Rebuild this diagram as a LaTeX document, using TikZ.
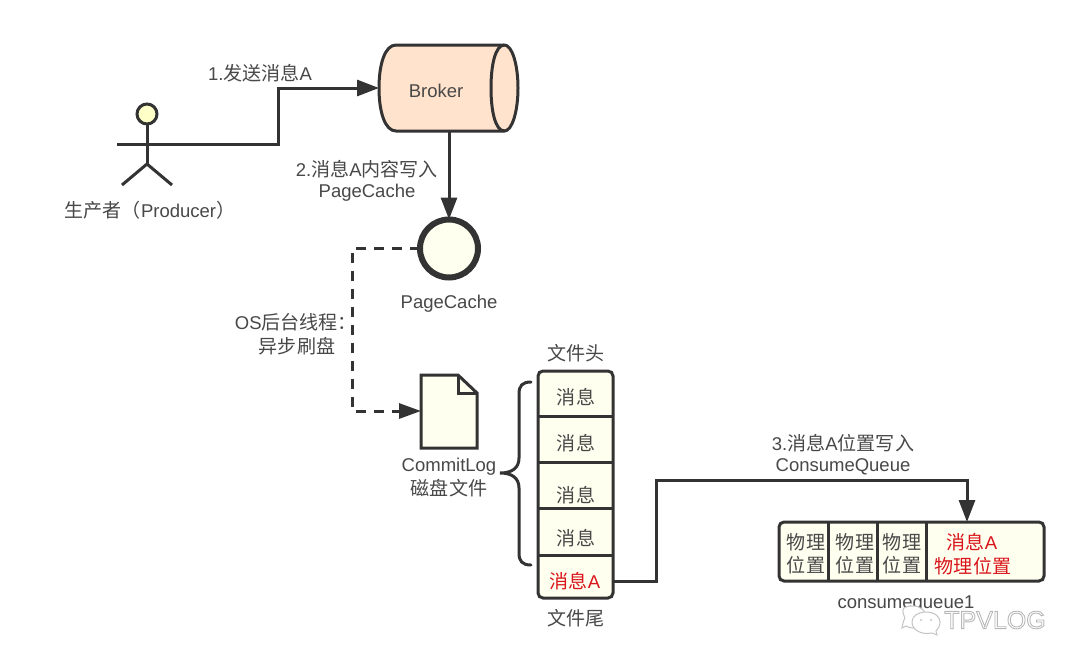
\documentclass[tikz,border=0pt]{standalone}
\usepackage{fontspec}
\setmainfont{Liberation Sans}
\newfontfamily\cjk[Scale=1.03]{Noto Sans CJK SC}
\usetikzlibrary{arrows.meta,calc}
\definecolor{ink}{HTML}{333333}
\definecolor{txt}{HTML}{484848}
\definecolor{redtxt}{HTML}{D9141A}
\definecolor{peach}{HTML}{FFE3CC}
\definecolor{cream}{HTML}{FFFFF0}
\definecolor{headfill}{HTML}{FFFFC8}
\definecolor{wm}{HTML}{C4C4C4}
\tikzset{
  x=1pt,y=-1pt,
  every node/.style={font=\fontsize{18.5}{22}\selectfont,text=txt,inner sep=0pt,outer sep=0pt},
  shapeline/.style={draw=ink,line width=3pt},
  conn/.style={draw=ink,line width=3pt,line join=miter,-{Triangle[length=22pt,width=16pt,fill=ink]}},
  flush/.style={draw=ink,line width=3pt,dash pattern=on 10pt off 8pt,-{Triangle[length=22pt,width=15pt,fill=ink]}},
  redlabel/.style={text=redtxt},
}
\begin{document}
\begin{tikzpicture}
\path[fill=white] (0,0) rectangle (1080,665);
\useasboundingbox (0,0) rectangle (1080,665);

% Producer
\node[circle,shapeline,fill=headfill,minimum size=20pt] (head) at (147,114) {};
\coordinate (hip) at (147,164);
\coordinate (armL) at (117,144);
\coordinate (legL) at (122,185);
\coordinate (legR) at (172,185);
\draw[shapeline] (head.south) -- (hip);
\draw[shapeline] (legL) -- (hip) -- (legR);
\node (prodlabel) at (150,210) {{\cjk 生产者（}Producer{\cjk ）}};

% Broker
\node[minimum width=139pt,minimum height=86pt] (broker) at (448.5,88) {};
\draw[shapeline,fill=peach] (396,45) -- (504.5,45) arc[start angle=90,end angle=-90,x radius=13.5,y radius=-43]
  -- (396,131) .. controls (385,131) and (379,112) .. (379,88) .. controls (379,64) and (385,45) .. (396,45) -- cycle;
\draw[shapeline] (504.5,45) .. controls (495,45) and (491,66) .. (491,88) .. controls (491,110) and (495,131) .. (504.5,131);
\node (brokerlabel) at (436,91) {Broker};

% PageCache circle
\node[circle,draw=ink,line width=6pt,fill=cream,minimum size=58pt] (cache) at (449,248.5) {};
\node (cachelabel) at (449,304) {PageCache};

% CommitLog file
\coordinate (fileW) at (421,411);
\draw[shapeline,fill=cream,line join=miter] (421,375) -- (458,375) -- (477,393) -- (477,448) -- (421,448) -- cycle;
\draw[shapeline,line join=miter] (458,375) -- (458,393) -- (477,393);
\node (filelabel) at (449,467) {CommitLog};
\node (filelabel2) at (449,488) {\cjk 磁盘文件};

% Brace
\draw[draw=ink,line width=3pt,line cap=round] (531,382)
  .. controls (522,382) and (519,386) .. (519,394)
  -- (519,458) .. controls (519,468) and (512,473) .. (500,473)
  .. controls (512,473) and (519,478) .. (519,488)
  -- (519,553) .. controls (519,561) and (522,565) .. (531,565);

% File stack
\node[shapeline,fill=cream,rounded corners=5pt,minimum width=75pt,minimum height=227pt] (stack) at (575.5,484.5) {};
\foreach \yy in {416,462,508,555}{\draw[shapeline] (538,\yy) -- (613,\yy);}
\coordinate (stackout) at (613,581);
\node (headlabel) at (576,353) {\cjk 文件头};
\node (m1) at (576,397) {\cjk 消息};
\node (m2) at (576,443) {\cjk 消息};
\node (m3) at (576,495) {\cjk 消息};
\node (m4) at (576,538) {\cjk 消息};
\node[redlabel] (m5) at (575,581) {{\cjk 消息}A};
\node (taillabel) at (576,618) {\cjk 文件尾};

% Consume queue
\node[shapeline,fill=cream,rounded corners=5pt,minimum width=265pt,minimum height=59pt] (queue) at (911.5,551.5) {};
\foreach \xx in {828,877,926}{\draw[shapeline] (\xx,522) -- (\xx,581);}
\coordinate (queuetop) at (967,522);
\node[align=center] (q1) at (806,554) {\cjk 物理\\[1pt]\cjk 位置};
\node[align=center] (q2) at (855,554) {\cjk 物理\\[1pt]\cjk 位置};
\node[align=center] (q3) at (902,554) {\cjk 物理\\[1pt]\cjk 位置};
\node (q4a) at (972,542) [redlabel] {{\cjk 消息}A};
\node (q4b) at (973,566) [redlabel] {\cjk 物理位置};
\node (queuelabel) at (906,604) {consumequeue1};

% Connectors
\draw[conn] (armL) -- (278,144) -- (278,88) -- (broker.west);
\draw[conn] (449,131) -- (cache.north);
\draw[flush] (cache.west) -- (352,248.5) -- (352,411) -- (fileW);
\draw[conn] (stackout) -- (656,581) -- (656,480) -- (967,480) -- (queuetop);

% Connector labels
\node (l1) at (260,73) {1.{\cjk 发送消息}A};
\node (l2a) at (367,169) {2.{\cjk 消息}A{\cjk 内容写入}};
\node (l2b) at (367,193) {PageCache};
\node (l3a) at (296,322) {OS{\cjk 后台线程：}};
\node (l3b) at (297,346) {\cjk 异步刷盘};
\node (l4a) at (843,443) {3.{\cjk 消息}A{\cjk 位置写入}};
\node (l4b) at (843,467) {ConsumeQueue};

% Watermark
\draw[wm,fill=white,line width=1pt] (905,618) .. controls (899,606) and (907,606) .. (913,606)
  .. controls (921,606) and (926,611) .. (926,617) .. controls (926,624) and (920,628) .. (913,628)
  .. controls (910,628) and (908,627) .. (906,626) -- (902,628) -- (903,623) .. controls (902,622) and (905,620) .. (905,618) -- cycle;
\draw[wm,fill=white,line width=1pt] (926,612) .. controls (935,612) and (940,617) .. (940,622)
  .. controls (940,626) and (938,629) .. (936,631) -- (937,635) -- (932,633)
  .. controls (921,635) and (912,630) .. (912,622) .. controls (912,616) and (918,612) .. (926,612) -- cycle;
\fill[wm] (921,620) circle (1.2pt) (931,620) circle (1.2pt);
\node (wmtext) at (995,620) {\color{wm}\fontsize{25}{30}\selectfont\special{pdf:code 1 Tr 0.9 w 0.72 G}TPVLOG\special{pdf:code 0 Tr}};
\end{tikzpicture}
\end{document}
